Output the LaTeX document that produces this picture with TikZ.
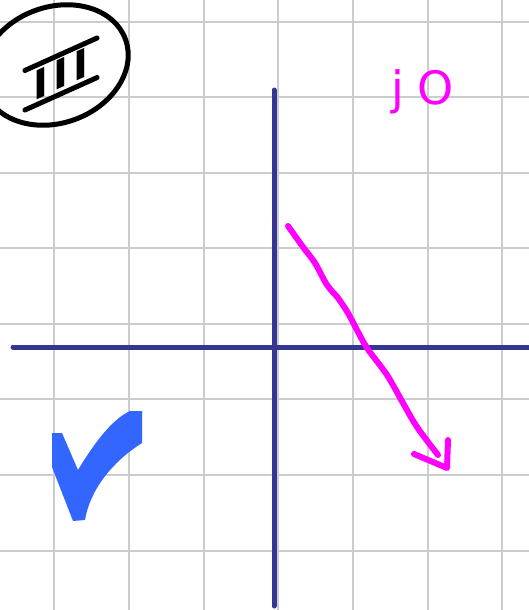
\documentclass[tikz,border=0pt]{standalone}
\usepackage{fontspec}
\newfontfamily\handfont[LetterSpace=30]{DejaVu Sans}
\newfontfamily\numfont[LetterSpace=14]{DejaVu Sans Bold}
\definecolor{gridc}{RGB}{204,204,204}
\definecolor{axisc}{RGB}{53,53,148}
\definecolor{mag}{RGB}{255,0,255}
\definecolor{checkc}{RGB}{51,102,255}
\tikzset{
  gridline/.style={draw=gridc, line width=1.6},
  axisline/.style={draw=axisc, line width=5, line cap=round},
  ink/.style={draw=black, line width=5, line cap=round, line join=round},
  magline/.style={draw=mag, line width=6, line cap=round, line join=round},
}
\begin{document}
\begin{tikzpicture}[x=1pt,y=-1pt]
\useasboundingbox (0,0) rectangle (529,610);
\clip (0,0) rectangle (529,610);
\fill[white] (0,0) rectangle (529,610);
% grid
\foreach \x in {54,129,204,278,353,428,502} \draw[gridline] (\x,0) -- (\x,610);
\foreach \y in {22,97,173,248,324,399,475,551} \draw[gridline] (0,\y) -- (529,\y);
% axes
\coordinate (xl) at (13,347);
\coordinate (xr) at (535,347);
\coordinate (yt) at (274,90);
\coordinate (yb) at (274,606);
\draw[axisline] (xl) -- (xr);
\draw[axisline] (yt) -- (yb);
% circled numeral
\draw[ink, rotate around={20:(55,65)}] (55,65) ellipse [x radius=75, y radius=58];
\begin{scope}[shift={(61,74)}, yslant=0.45]
  \node[transform shape, inner xsep=8, inner ysep=5, font=\numfont\fontsize{40}{40}\selectfont] (num) at (0,0) {III};
\end{scope}
\draw[ink] (num.north west) -- (num.north east);
\draw[ink] (num.south west) -- (num.south east);
% magenta label
\node[anchor=base west, text=mag, inner sep=0, font=\handfont\fontsize{46}{46}\selectfont] (jo) at (391,104) {jO};
% magenta arrow
\draw[magline] plot[smooth] coordinates {(288,226) (303,247) (315,263) (327,285) (338,298) (348,313) (357,330) (367,348) (385,372) (393,385) (403,403) (417,427) (438,455)};
\coordinate (h1) at (414,454);
\coordinate (h2) at (447,468);
\coordinate (h3) at (448,440);
\draw[magline] (h1) -- (h2) -- (h3);
% check mark
\fill[checkc] (52,433) -- (62,433) -- (78,470)
  .. controls (90,450) and (110,420) .. (130,411)
  -- (142,411) -- (142,443)
  .. controls (112,462) and (90,490) .. (85,520)
  -- (73,521) -- (52,467) -- cycle;
\end{tikzpicture}
\end{document}
